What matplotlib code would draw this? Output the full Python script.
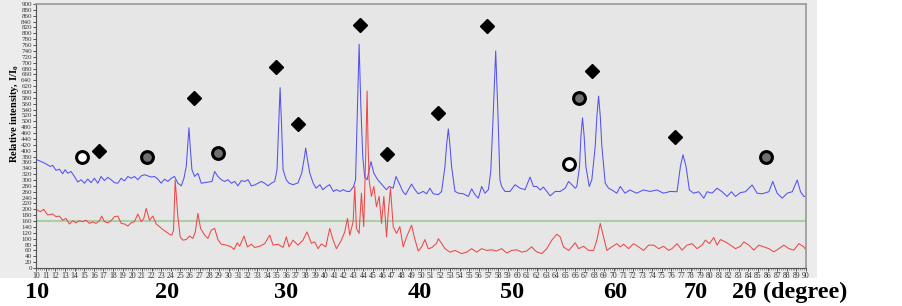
import matplotlib
matplotlib.use('Agg')
import matplotlib.pyplot as plt
from matplotlib.patches import Rectangle
from matplotlib.ticker import MultipleLocator

plt.rcParams['font.family'] = ['Liberation Serif', 'DejaVu Serif']

# blue pattern (2theta, I)
blue_x = [10.1, 10.52, 11.04, 11.49, 11.73, 12.08, 12.43, 12.77, 13.02, 13.3, 13.64, 13.99,
          14.34, 14.68, 15.03, 15.38, 15.72, 16.07, 16.42, 16.76, 17.11, 17.46, 17.8, 18.15,
          18.5, 18.85, 19.19, 19.54, 19.89, 20.23, 20.58, 20.93, 21.27, 21.62, 21.97, 22.31,
          22.66, 23.01, 23.35, 23.7, 24.05, 24.39, 24.74, 25.09, 25.37, 25.61, 25.75, 25.89,
          26.03, 26.2, 26.48, 26.82, 27.17, 27.52, 27.86, 28.28, 28.56, 28.9, 29.25, 29.6,
          29.94, 30.29, 30.64, 30.98, 31.33, 31.68, 32.03, 32.37, 32.72, 33.07, 33.41, 33.76,
          34.11, 34.45, 34.8, 35.04, 35.2, 35.36, 35.52, 35.67, 36.01, 36.29, 36.7, 37.22,
          37.6, 37.85, 38.02, 38.2, 38.45, 38.8, 39.1, 39.5, 39.8, 40.2, 40.5, 40.9, 41.2,
          41.6, 41.9, 42.3, 42.6, 43.0, 43.2, 43.4, 43.57, 43.75, 43.95, 44.15, 44.4, 44.55,
          44.8, 45.1, 45.5, 46.1, 46.4, 46.7, 47.1, 47.4, 47.8, 48.1, 48.4, 49.02, 49.37,
          49.71, 50.23, 50.58, 50.93, 51.27, 51.8, 52.14, 52.49, 52.66, 52.84, 53.0, 53.18,
          53.53, 53.88, 54.4, 54.92, 55.26, 55.61, 55.96, 56.3, 56.65, 57.0, 57.25, 57.5,
          57.76, 58.0, 58.2, 58.38, 58.73, 59.25, 59.77, 60.29, 60.81, 61.33, 61.68, 62.03,
          62.38, 62.72, 63.42, 63.94, 64.46, 64.98, 65.33, 65.67, 66.02, 66.19, 66.47, 66.62,
          66.78, 66.95, 67.13, 67.48, 67.75, 68.1, 68.28, 68.45, 68.62, 68.79, 69.14, 69.49,
          69.83, 70.35, 70.7, 71.2, 71.7, 72.4, 73.1, 73.8, 74.5, 75.2, 75.9, 76.6, 76.95,
          77.22, 77.54, 77.88, 78.33, 78.85, 79.38, 79.72, 80.24, 80.76, 81.28, 81.8, 82.25,
          82.67, 83.19, 83.71, 84.4, 84.92, 85.45, 86.14, 86.55, 87.0, 87.53, 88.05, 88.57,
          89.09, 89.43, 89.78, 90.0]
blue_y = [369, 363, 355, 346, 350, 333, 337, 321, 335, 323, 329, 312,
          293, 301, 289, 303, 291, 306, 289, 312, 298, 309, 301, 291,
          289, 306, 297, 312, 306, 312, 301, 314, 318, 314, 310, 312,
          303, 289, 303, 295, 306, 312, 289, 280, 306, 346, 410, 478,
          410, 335, 312, 323, 289, 291, 293, 295, 329, 312, 301, 295,
          301, 289, 295, 280, 298, 295, 301, 280, 283, 289, 295, 289,
          280, 289, 295, 335, 480, 615, 480, 335, 300, 289, 284, 290,
          323, 370, 409, 370, 323, 289, 272, 284, 267, 278, 284, 261, 267,
          261, 267, 261, 261, 278, 301, 552, 763, 552, 380, 310, 301, 323,
          363, 323, 301, 278, 267, 278, 272, 312, 284, 261, 250, 286, 267,
          253, 261, 253, 272, 253, 250, 261, 346, 420, 474, 420, 346,
          261, 255, 253, 244, 270, 250, 238, 278, 255, 267, 330, 520,
          740, 520, 300, 278, 261, 261, 284, 272, 267, 310, 278, 278,
          266, 276, 246, 261, 261, 272, 295, 284, 272, 278, 346, 450,
          512, 450, 346, 278, 301, 415, 520, 586, 520, 415, 289, 272,
          266, 255, 278, 255, 266, 255, 266, 261, 266, 255, 261, 260, 346,
          386, 346, 266, 255, 260, 238, 260, 255, 272, 260, 244, 260,
          244, 257, 260, 283, 255, 253, 260, 295, 255, 238, 255, 260,
          300, 260, 244, 244]

# red pattern (2theta, I)
red_x = [10.1, 10.45, 10.8, 11.21, 11.73, 12.08, 12.43, 12.77, 13.12, 13.47, 13.82, 14.16,
         14.51, 14.86, 15.2, 15.55, 15.9, 16.24, 16.59, 16.83, 17.11, 17.46, 17.8, 18.15,
         18.5, 18.85, 19.19, 19.54, 19.89, 20.23, 20.58, 20.93, 21.2, 21.45, 21.79, 22.14,
         22.49, 22.83, 23.18, 23.53, 23.87, 24.12, 24.29, 24.46, 24.62, 24.74, 24.98, 25.26,
         25.61, 25.96, 26.3, 26.55, 26.82, 27.1, 27.52, 27.86, 28.21, 28.56, 28.9, 29.25,
         29.77, 30.29, 30.57, 30.91, 31.16, 31.61, 31.96, 32.37, 32.72, 33.24, 33.76, 34.28,
         34.63, 35.15, 35.67, 36.01, 36.29, 36.7, 37.22, 37.74, 38.16, 38.61, 38.96, 39.3,
         39.65, 40.1, 40.52, 40.87, 41.21, 41.73, 42.08, 42.36, 42.6, 42.95, 43.12, 43.29,
         43.57, 43.81, 44.05, 44.25, 44.4, 44.5, 44.61, 44.85, 45.1, 45.37, 45.65, 45.9,
         46.14, 46.42, 46.59, 46.83, 47.11, 47.46, 47.8, 48.15, 48.5, 49.02, 49.3, 49.71,
         50.06, 50.41, 50.75, 51.1, 51.62, 51.8, 52.14, 52.49, 53.01, 53.53, 54.22, 54.74,
         55.26, 55.78, 56.3, 56.82, 57.34, 57.86, 58.38, 58.9, 59.43, 59.95, 60.47, 60.98,
         61.5, 61.85, 62.03, 62.55, 63.07, 63.59, 64.11, 64.46, 64.8, 65.33, 65.67, 66.02,
         66.37, 66.89, 67.41, 67.93, 68.27, 68.62, 68.97, 69.31, 69.83, 70.35, 70.7, 71.05,
         71.57, 72.09, 72.61, 73.13, 73.65, 74.17, 74.69, 75.21, 75.73, 76.08, 76.6, 77.12,
         77.64, 78.16, 78.68, 79.2, 79.55, 79.96, 80.42, 80.76, 81.11, 81.63, 82.15, 82.67,
         83.19, 83.54, 84.06, 84.58, 85.1, 85.62, 86.14, 86.66, 87.18, 87.7, 88.22, 88.74,
         89.26, 89.78, 90.0]
red_y = [198, 192, 200, 181, 184, 175, 177, 163, 169, 150, 161, 154,
         161, 158, 163, 152, 157, 152, 161, 177, 158, 154, 161, 175,
         177, 152, 150, 143, 154, 158, 184, 158, 169, 203, 163, 177,
         150, 141, 131, 123, 115, 112, 129, 300, 230, 175, 106, 95,
         97, 109, 101, 123, 186, 135, 112, 101, 129, 135, 97, 81,
         78, 72, 63, 86, 74, 109, 72, 81, 70, 74, 83, 112,
         78, 81, 70, 106, 72, 95, 78, 95, 123, 84, 89, 66,
         82, 72, 135, 95, 66, 95, 123, 169, 112, 158, 278, 135,
         118, 255, 141, 380, 603, 420, 300, 244, 278, 209, 244, 152,
         244, 106, 186, 272, 141, 118, 141, 72, 106, 146, 106, 58,
         72, 97, 66, 69, 84, 100, 84, 66, 54, 60, 49, 54,
         66, 54, 66, 60, 62, 58, 66, 51, 60, 62, 54, 58,
         72, 60, 55, 49, 66, 95, 115, 106, 72, 60, 72, 86,
         66, 74, 60, 60, 95, 152, 106, 60, 72, 83, 72, 81,
         66, 83, 72, 60, 78, 78, 66, 74, 60, 66, 83, 61,
         78, 83, 66, 78, 95, 83, 104, 78, 97, 89, 78, 66,
         74, 89, 78, 61, 78, 72, 66, 55, 66, 78, 66, 61,
         83, 72, 61]

# phase markers
diamond_x = [16.56, 26.44, 34.97, 37.26, 43.71, 46.42, 51.73, 56.83, 67.75, 76.39]
diamond_y = [400, 578, 684, 492, 828, 390, 530, 825, 670, 448]
open_x = [14.79, 65.36]
open_y = [379, 355]
grey_x = [21.55, 28.94, 66.4, 85.86]
grey_y = [379, 393, 581, 379]

big_labels = ['10', '20', '30', '40', '50', '60', '70', '2θ (degree)']
big_label_px = [37, 167, 286, 420, 512, 615, 696, 790]

W, H = 903, 306
fig = plt.figure(figsize=(W / 100, H / 100), dpi=100)
fig.patches.append(Rectangle((0, 1 - 278 / H), 817 / W, 278 / H, transform=fig.transFigure,
                             facecolor='#ececec', edgecolor='none', zorder=-5))
ax = fig.add_axes([36 / W, 1 - 268 / H, 770 / W, 264 / H])
ax.set_zorder(2)
ax.set_facecolor('#e6e6e6')

ax.plot(blue_x, blue_y, color='#5252f0', lw=0.75)
ax.plot(red_x, red_y, color='#ec4848', lw=0.75)
ax.axhline(160, color='#a8d0a2', lw=1.5, zorder=1)

ax.plot(diamond_x, diamond_y, 'D', color='black', ms=7.5, ls='none')
ax.plot(open_x, open_y, 'o', mfc='white', mec='black', mew=2.2, ms=8.5, ls='none')
ax.plot(grey_x, grey_y, 'o', mfc='#707070', mec='black', mew=2.2, ms=8.5, ls='none')

ax.set_xlim(10, 90)
ax.set_ylim(0, 900)
ax.xaxis.set_major_locator(MultipleLocator(1))
ax.xaxis.set_minor_locator(MultipleLocator(0.2))
ax.yaxis.set_major_locator(MultipleLocator(20))
ax.tick_params(axis='x', labelsize=5.5, length=2, width=0.6, pad=1, colors='#333333')
ax.tick_params(axis='x', which='minor', length=1.2, width=0.4, colors='#555555')
ax.tick_params(axis='y', labelsize=5, length=2, width=0.6, pad=1, colors='#333333')
for s in ['left', 'bottom']:
    ax.spines[s].set_color('#555555')
    ax.spines[s].set_linewidth(0.8)
for s in ['top', 'right']:
    ax.spines[s].set_color('#999999')
    ax.spines[s].set_linewidth(1.2)

fig.text(15 / W, 1 - 114 / H, r'Relative intensity, I/I$_\mathregular{0}$', rotation=90,
         ha='center', va='center', fontsize=7.5, fontweight='bold')

for lab, px in zip(big_labels, big_label_px):
    fig.text(px / W, 1 - 292 / H, lab, ha='center', va='center', fontsize=17.5, fontweight='bold')

fig.savefig('out.png', dpi=100)
